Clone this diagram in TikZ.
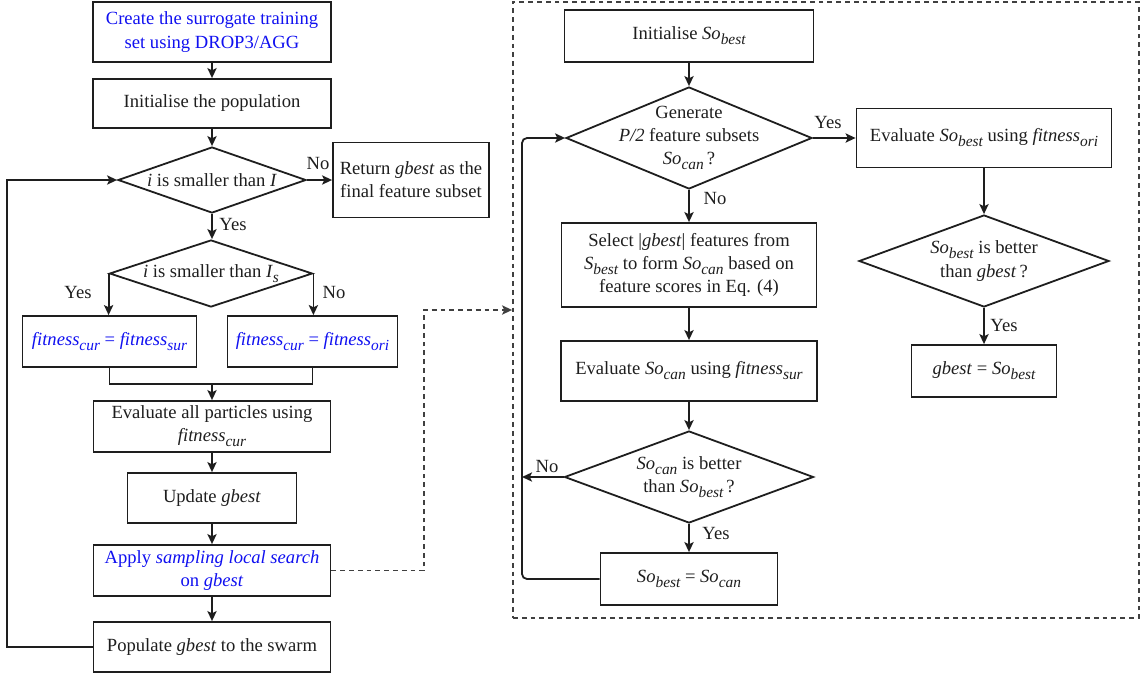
\documentclass[tikz,border=0pt]{standalone}
\usepackage{fontspec}
\setmainfont{Liberation Serif}
\usetikzlibrary{shapes.geometric,arrows.meta}
\definecolor{ink}{HTML}{1E1E1E}
\definecolor{hl}{HTML}{1010F0}
% italic subscript, set a little below the baseline
\newcommand{\lo}[1]{\raisebox{-2.5pt}{\fontsize{7.7}{8}\selectfont\itshape #1}}
\begin{document}
\begin{tikzpicture}[x=0.5pt,y=-0.5pt,
  font=\fontsize{9.3}{11.6}\selectfont, text=ink,
  box/.style={draw=ink, rectangle, inner sep=0pt, align=center, line width=0.9pt},
  dia/.style={draw=ink, diamond, inner sep=0pt, line width=0.9pt},
  diatext/.style={inner sep=0pt, align=center},
  lab/.style={inner sep=0pt},
  wire/.style={draw=ink, line width=0.9pt},
  arr/.style={wire, -{Stealth[length=5pt,width=4.6pt,inset=1.1pt]}},
  dsh/.style={draw=ink!85, line width=0.9pt, dash pattern=on 2.4pt off 2pt},
]
\useasboundingbox (0,0) rectangle (1140,675);

% ---------------- main loop ----------------
\node[box, text=hl, minimum width=119pt, minimum height=30pt] (b1) at (212,32)
  {Create the surrogate training\\set using DROP3/AGG};
\node[box, minimum width=119pt, minimum height=24.5pt] (b2) at (212,103.5)
  {Initialise the population};
\node[dia, minimum width=94pt, minimum height=33pt] (d1) at (212,180) {};
\node[diatext] (d1t) at (d1.center) {\textit{i} is smaller than \textit{I}};
\node[box, minimum width=78pt, minimum height=37.5pt] (ret) at (411,180) {Return \textit{gbest} as the\\final feature subset};
\node[dia, minimum width=101.5pt, minimum height=33.5pt] (d2) at (211,273.5) {};
\node[diatext] (d2t) at (d2.center) {\textit{i} is smaller than \textit{I}\lo{s}};
\node[box, text=hl, minimum width=87pt, minimum height=25.5pt] (fsur) at (109.5,341.5)
  {\textit{fitness}\lo{cur} = \textit{fitness}\lo{sur}};
\node[box, text=hl, minimum width=85pt, minimum height=25.5pt] (fori) at (312.5,341.5)
  {\textit{fitness}\lo{cur} = \textit{fitness}\lo{ori}};
\coordinate (mrg) at (212,384);
\node[box, minimum width=118.5pt, minimum height=25.5pt] (ev) at (212,426.5)
  {Evaluate all particles using\\\textit{fitness}\lo{cur}};
\node[box, minimum width=84.5pt, minimum height=25pt] (up) at (212,498) {Update \textit{gbest}};
\node[box, text=hl, minimum width=118.5pt, minimum height=25.5pt] (ap) at (212,570.5)
  {Apply \textit{sampling local search}\\on \textit{gbest}};
\node[box, minimum width=118.5pt, minimum height=25pt] (pop) at (212,647)
  {Populate \textit{gbest} to the swarm};

\draw[arr] (b1.south) -- (b2.north);
\draw[arr] (b2.south) -- (d1.north);
\draw[arr] (d1.east) -- (ret.west);
\draw[arr] (d1.south) -- (d1.south |- d2.north);
\draw[arr] (d2.west) -- (d2.west |- fsur.north);
\draw[arr] (d2.east) -- (d2.east |- fori.north);
\draw[wire] (fsur.south) -- (fsur.south |- mrg) -- (fori.south |- mrg) -- (fori.south);
\draw[arr] (mrg) -- (ev.north);
\draw[arr] (ev.south) -- (up.north);
\draw[arr] (up.south) -- (ap.north);
\draw[arr] (ap.south) -- (pop.north);
\coordinate (ll) at (7,0);
\draw[arr] (pop.west) -- (pop.west -| ll) -- (d1.west -| ll) -- (d1.west);

\node[lab] (l1) at (318,163) {No};
\node[lab] (l2) at (233,224) {Yes};
\node[lab] (l3) at (78,292) {Yes};
\node[lab] (l4) at (334,292) {No};

% ---------------- sampling local search ----------------
\node[dsh, rectangle, inner sep=0pt, minimum width=313pt, minimum height=308pt] (frame) at (826,310) {};
\coordinate (dk) at (424,310);
\draw[dsh, -{Stealth[length=5pt,width=4.6pt,inset=1.1pt]}] (ap.east) -| (dk) -- (frame.west);

\node[box, minimum width=124.5pt, minimum height=26pt] (init) at (689,36) {Initialise \textit{So}\lo{best}};
\node[dia, minimum width=123pt, minimum height=51pt] (gen) at (689,138) {};
\node[diatext] (gent) at (gen.center) {Generate\\\textit{P/2} feature subsets\\\textit{So}\lo{can}\,?};
\node[box, minimum width=127.5pt, minimum height=42pt] (sel) at (689,265)
  {Select |\textit{gbest}|\ features from\\\textit{S}\lo{best} to form \textit{So}\lo{can} based on\\feature scores in Eq. (4)};
\node[box, minimum width=128pt, minimum height=30pt] (evc) at (689,371)
  {Evaluate \textit{So}\lo{can} using \textit{fitness}\lo{sur}};
\node[dia, minimum width=124.5pt, minimum height=46pt] (dcan) at (689,477) {};
\node[diatext] (dcant) at (dcan.center) {\textit{So}\lo{can} is better\\than \textit{So}\lo{best}\,?};
\node[box, minimum width=88.5pt, minimum height=26pt] (sbc) at (689,579) {\textit{So}\lo{best} = \textit{So}\lo{can}};

\node[box, minimum width=127.5pt, minimum height=29.5pt] (evb) at (984,138)
  {Evaluate \textit{So}\lo{best} using \textit{fitness}\lo{ori}};
\node[dia, minimum width=125pt, minimum height=46pt] (dbest) at (984,261) {};
\node[diatext] (dbestt) at (dbest.center) {\textit{So}\lo{best} is better\\than \textit{gbest}\,?};
\node[box, minimum width=72.5pt, minimum height=26pt] (gb) at (984,371) {\textit{gbest} = \textit{So}\lo{best}};

\draw[arr] (init.south) -- (gen.north);
\draw[arr] (gen.east) -- (evb.west);
\draw[arr] (gen.south) -- (sel.north);
\draw[arr] (sel.south) -- (evc.north);
\draw[arr] (evc.south) -- (dcan.north);
\draw[arr] (dcan.south) -- (sbc.north);
\draw[arr] (evb.south) -- (dbest.north);
\draw[arr] (dbest.south) -- (gb.north);
\coordinate (lp) at (522,0);
\draw[arr] (dcan.west) -- (dcan.west -| lp);
\draw[arr, rounded corners=2.5pt] (sbc.west) -- (sbc.west -| lp) -- (gen.west -| lp) -- (gen.west);

\node[lab] (l5) at (828,122) {Yes};
\node[lab] (l6) at (715,198) {No};
\node[lab] (l7) at (1004,325) {Yes};
\node[lab] (l8) at (547,466) {No};
\node[lab] (l9) at (716,533) {Yes};
\end{tikzpicture}
\end{document}
